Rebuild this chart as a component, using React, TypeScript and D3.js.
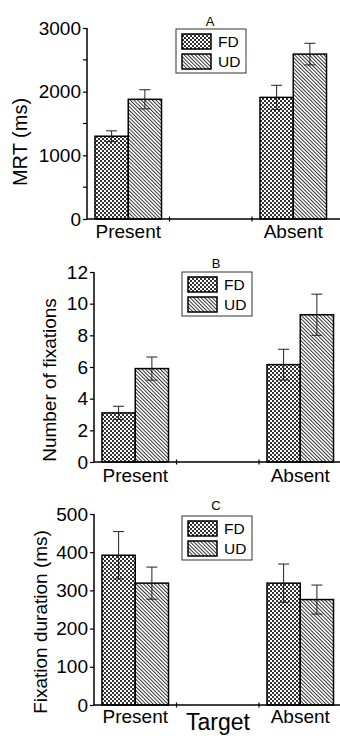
import React, { useEffect, useRef } from 'react';
import * as d3 from 'd3';

// categories on the x axis (middle slot is an empty gap)
const categories = ['Present', '', 'Absent'];
const series = ['FD', 'UD'];

// Panel A: mean reaction time (ms)
const mrtFD = [1300, 1910];
const mrtUD = [1880, 2590];
const mrtFDErr = [85, 190];
const mrtUDErr = [150, 170];
const mrtTicks = [0, 1000, 2000, 3000];
const mrtMinor = [500, 1500, 2500];

// Panel B: number of fixations
const fixFD = [3.1, 6.15];
const fixUD = [5.9, 9.3];
const fixFDErr = [0.42, 0.97];
const fixUDErr = [0.73, 1.3];
const fixTicks = [0, 2, 4, 6, 8, 10, 12];

// Panel C: fixation duration (ms)
const durFD = [392, 319];
const durUD = [319, 276];
const durFDErr = [62, 50];
const durUDErr = [42, 38];
const durTicks = [0, 100, 200, 300, 400, 500];

const FONT = '"Liberation Sans", Arial, sans-serif';

const App = () => {
  const ref = useRef(null);

  useEffect(() => {
    const width = 340;
    const height = 736;

    d3.select(ref.current).select('svg').remove();

    const svg = d3
      .select(ref.current)
      .append('svg')
      .attr('width', width)
      .attr('height', height)
      .style('position', 'absolute')
      .style('left', 0)
      .style('top', 0)
      .style('background', '#fff');

    // fill patterns
    const defs = svg.append('defs');
    const checker = defs
      .append('pattern')
      .attr('id', 'checker')
      .attr('patternUnits', 'userSpaceOnUse')
      .attr('width', 4)
      .attr('height', 4);
    checker.append('rect').attr('width', 4).attr('height', 4).attr('fill', '#fff');
    checker.append('rect').attr('width', 2).attr('height', 2).attr('fill', '#333');
    checker.append('rect').attr('x', 2).attr('y', 2).attr('width', 2).attr('height', 2).attr('fill', '#333');

    const hatch = defs
      .append('pattern')
      .attr('id', 'hatch')
      .attr('patternUnits', 'userSpaceOnUse')
      .attr('width', 2.6)
      .attr('height', 10)
      .attr('patternTransform', 'rotate(-45)');
    hatch.append('rect').attr('width', 2.6).attr('height', 10).attr('fill', '#fff');
    hatch
      .append('line')
      .attr('x1', 0.5)
      .attr('x2', 0.5)
      .attr('y1', 0)
      .attr('y2', 10)
      .attr('stroke', '#222')
      .attr('stroke-width', 0.9);

    const fills = { FD: 'url(#checker)', UD: 'url(#hatch)' };

    const panels = [
      {
        letter: 'A', label: 'MRT (ms)', fd: mrtFD, ud: mrtUD, fdErr: mrtFDErr, udErr: mrtUDErr,
        ticks: mrtTicks, minor: mrtMinor, left: 87, y0: 219, yTop: 28,
        labelX: 27, labelY: 142, labelSize: 20,
        legend: { x: 176, y: 29 }, letterY: 26, catY: 238,
      },
      {
        letter: 'B', label: 'Number of fixations', fd: fixFD, ud: fixUD, fdErr: fixFDErr, udErr: fixUDErr,
        ticks: fixTicks, minor: [], left: 94, y0: 462, yTop: 272,
        labelX: 56, labelY: 380, labelSize: 19,
        legend: { x: 182, y: 272 }, letterY: 268, catY: 482,
      },
      {
        letter: 'C', label: 'Fixation duration (ms)', fd: durFD, ud: durUD, fdErr: durFDErr, udErr: durUDErr,
        ticks: durTicks, minor: [], left: 94, y0: 705, yTop: 514,
        labelX: 47, labelY: 622, labelSize: 19,
        legend: { x: 182, y: 516 }, letterY: 510, catY: 723,
      },
    ];

    panels.forEach(p => {
      const g = svg.append('g');
      const bandW = 82.5;

      const x = d3
        .scaleBand()
        .domain(categories.map((c, i) => String(i)))
        .range([p.left, p.left + bandW * 3])
        .padding(0);

      const xs = d3
        .scaleBand()
        .domain(series)
        .range([0, x.bandwidth()])
        .paddingInner(0)
        .paddingOuter(0.24);

      const yMax = p.ticks[p.ticks.length - 1];
      const y = d3.scaleLinear().domain([0, yMax]).range([p.y0, p.yTop]);

      // bars + error bars
      const rows = [];
      ['0', '2'].forEach((key, gi) => {
        rows.push({ key, s: 'FD', v: p.fd[gi], e: p.fdErr[gi] });
        rows.push({ key, s: 'UD', v: p.ud[gi], e: p.udErr[gi] });
      });

      const bar = g
        .selectAll('g.bar')
        .data(rows)
        .enter()
        .append('g')
        .attr('class', 'bar');

      bar
        .append('rect')
        .attr('x', d => x(d.key) + xs(d.s))
        .attr('y', d => y(d.v))
        .attr('width', xs.bandwidth())
        .attr('height', d => y(0) - y(d.v))
        .attr('fill', d => fills[d.s])
        .attr('stroke', '#000')
        .attr('stroke-width', 1.5);

      const cx = d => x(d.key) + xs(d.s) + xs.bandwidth() / 2;
      bar
        .append('line')
        .attr('x1', cx)
        .attr('x2', cx)
        .attr('y1', d => y(d.v + d.e))
        .attr('y2', d => y(d.v - d.e))
        .attr('stroke', '#222')
        .attr('stroke-width', 1);
      [1, -1].forEach(sign => {
        bar
          .append('line')
          .attr('x1', d => cx(d) - 5.5)
          .attr('x2', d => cx(d) + 5.5)
          .attr('y1', d => y(d.v + sign * d.e))
          .attr('y2', d => y(d.v + sign * d.e))
          .attr('stroke', '#222')
          .attr('stroke-width', 1);
      });

      // y axis
      const yAxis = g
        .append('g')
        .attr('transform', `translate(${p.left},0)`)
        .call(d3.axisLeft(y).tickValues(p.ticks).tickSize(4).tickPadding(2).tickFormat(d3.format('d')));
      yAxis.select('.domain').attr('d', `M0,${p.y0}V${p.yTop}`).attr('stroke-width', 1.5);
      yAxis.selectAll('.tick line').attr('stroke-width', 1.2);
      yAxis.selectAll('text').attr('font-family', FONT).attr('font-size', 19).attr('fill', '#000');
      yAxis
        .selectAll('line.minor')
        .data(p.minor)
        .enter()
        .append('line')
        .attr('class', 'minor')
        .attr('x1', -4)
        .attr('x2', 0)
        .attr('y1', d => y(d))
        .attr('y2', d => y(d))
        .attr('stroke', '#000')
        .attr('stroke-width', 1.2);

      // x axis baseline with small boundary ticks
      g.append('line')
        .attr('x1', p.left)
        .attr('x2', width)
        .attr('y1', p.y0)
        .attr('y2', p.y0)
        .attr('stroke', '#000')
        .attr('stroke-width', 1.5);
      g.selectAll('line.xtick')
        .data(['1', '2'])
        .enter()
        .append('line')
        .attr('class', 'xtick')
        .attr('x1', d => x(d))
        .attr('x2', d => x(d))
        .attr('y1', p.y0 - 2.5)
        .attr('y2', p.y0 + 2.5)
        .attr('stroke', '#000')
        .attr('stroke-width', 1.2);

      g.selectAll('text.cat')
        .data(['0', '2'])
        .enter()
        .append('text')
        .attr('class', 'cat')
        .attr('x', d => x(d) + x.bandwidth() / 2)
        .attr('y', p.catY)
        .attr('text-anchor', 'middle')
        .attr('font-family', FONT)
        .attr('font-size', 19)
        .text(d => categories[+d]);

      // y label
      g.append('text')
        .attr('transform', `translate(${p.labelX},${p.labelY}) rotate(-90)`)
        .attr('text-anchor', 'middle')
        .attr('font-family', FONT)
        .attr('font-size', p.labelSize)
        .text(p.label);

      // panel letter
      g.append('text')
        .attr('x', p.legend.x + 34)
        .attr('y', p.letterY)
        .attr('text-anchor', 'middle')
        .attr('font-family', FONT)
        .attr('font-size', 13)
        .text(p.letter);

      // legend
      const lg = g.append('g').attr('transform', `translate(${p.legend.x},${p.legend.y})`);
      lg.append('rect')
        .attr('width', 70)
        .attr('height', 44)
        .attr('fill', '#fff')
        .attr('stroke', '#333')
        .attr('stroke-width', 1);
      series.forEach((s, i) => {
        lg.append('rect')
          .attr('x', 6)
          .attr('y', 5 + i * 20)
          .attr('width', 29)
          .attr('height', 15)
          .attr('fill', fills[s])
          .attr('stroke', '#000')
          .attr('stroke-width', 1.5);
        lg.append('text')
          .attr('x', 42)
          .attr('y', 18 + i * 20)
          .attr('font-family', FONT)
          .attr('font-size', 15.5)
          .text(s);
      });
    });

    // shared x title
    svg
      .append('text')
      .attr('x', 218)
      .attr('y', 730)
      .attr('text-anchor', 'middle')
      .attr('font-family', FONT)
      .attr('font-size', 23)
      .text('Target');
  }, []);

  return <div ref={ref}></div>;
};

export default App;
